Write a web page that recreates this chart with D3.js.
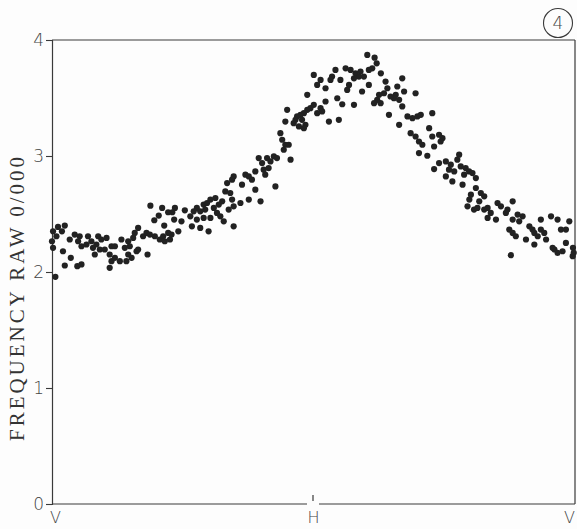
<!DOCTYPE html>
<html>
<head>
<meta charset="utf-8">
<script src="https://cdn.jsdelivr.net/npm/d3@7"></script>
<style>
  body { margin: 0; background: #fdfdfd; }
  svg { display: block; }
</style>
</head>
<body>
<svg id="chart" width="577" height="529"></svg>
<script>
// position along the scan: 0 = V, 1 = H, 2 = V
const position = [
  0.377,0.422,0.471,0.445,0.409,0.461,0.509,0.392,0.430,0.468,0.496,0.004,0.023,0.049,0.038,0.017,
  0.000,0.004,0.042,0.072,0.049,0.097,0.113,0.013,0.068,0.087,0.106,0.100,0.113,0.138,0.151,0.132,
  0.157,0.177,0.189,0.170,0.183,0.164,0.209,0.202,0.228,0.241,0.221,0.228,0.241,0.260,0.221,0.266,
  0.292,0.279,0.298,0.292,0.305,0.324,0.330,0.285,0.317,0.330,0.311,0.366,0.349,0.362,0.375,0.394,
  0.413,0.426,0.432,0.452,0.458,0.484,0.445,
  0.792,0.824,0.850,0.862,0.805,0.837,0.914,0.779,0.811,0.830,0.817,0.741,0.754,0.766,0.696,0.690,
  0.671,0.728,0.779,0.856,0.664,0.683,0.754,0.799,0.722,0.696,0.677,0.690,0.555,0.581,0.594,0.607,
  0.626,0.652,0.639,0.620,0.587,0.568,0.543,0.530,0.555,0.581,0.607,0.632,0.645,0.658,0.536,0.568,
  0.600,0.696,
  1.208,1.236,1.244,1.227,1.214,1.125,1.144,1.163,1.182,1.176,1.157,1.195,1.086,1.073,1.067,1.105,
  1.003,1.029,1.016,1.048,1.138,1.131,1.214,1.188,1.260,1.278,1.285,1.272,1.253,1.246,1.234,1.259,
  1.323,1.342,1.349,1.317,1.310,1.297,1.330,1.342,1.393,0.978,1.093,1.112,1.157,1.048,1.029,1.035,
  1.016,1.003,0.990,0.978,0.965,0.952,0.939,0.933,0.958,0.971,0.946,0.965,0.926,0.901,0.894,1.061,
  1.099,1.291,1.330,1.362,1.381,1.400,1.374,1.393,1.406,0.875,0.882,0.894,0.907,0.888,
  1.413,1.457,1.445,1.457,1.483,1.496,1.489,1.464,1.419,1.438,1.406,1.560,1.553,1.483,1.509,1.528,
  1.521,1.541,1.566,1.585,1.598,1.579,1.624,1.509,1.534,1.464,1.573,1.611,1.605,1.624,1.643,1.656,
  1.599,1.637,1.592,1.617,1.630,1.656,1.669,1.681,1.669,1.701,1.707,1.720,1.739,1.745,1.765,1.765,
  1.784,1.803,1.790,1.752,1.765,1.777,1.758,1.816,1.829,1.841,1.848,1.861,1.848,1.873,1.873,1.886,
  1.893,1.912,1.937,1.950,1.969,1.982,1.969,1.925,1.937,1.956,1.918,1.996,1.995,1.999
];

// frequency raw 0/000
const frequency = [
  2.572,2.552,2.552,2.515,2.486,2.515,2.532,2.446,2.400,2.452,2.437,2.351,2.389,2.400,2.351,2.308,
  2.265,2.208,2.179,2.122,2.056,2.050,2.065,1.958,2.280,2.323,2.308,2.265,2.222,2.308,2.265,2.237,
  2.208,2.308,2.280,2.237,2.194,2.151,2.294,2.194,2.222,2.222,2.151,2.093,2.122,2.093,2.036,2.280,
  2.265,2.208,2.222,2.151,2.122,2.179,2.194,2.093,2.337,2.380,2.294,2.151,2.308,2.337,2.323,2.308,
  2.280,2.308,2.265,2.280,2.323,2.351,2.337,
  2.982,2.982,2.996,2.982,2.939,2.953,2.968,2.867,2.882,2.896,2.839,2.839,2.824,2.796,2.824,2.796,
  2.767,2.753,2.710,2.738,2.695,2.681,2.624,2.609,2.595,2.566,2.538,2.624,2.552,2.581,2.595,2.624,
  2.638,2.609,2.581,2.552,2.538,2.523,2.523,2.480,2.452,2.466,2.466,2.509,2.480,2.437,2.394,2.380,
  2.351,2.394,
  3.871,3.848,3.799,3.756,3.742,3.756,3.742,3.713,3.728,3.685,3.670,3.685,3.742,3.685,3.656,3.656,
  3.699,3.656,3.613,3.584,3.613,3.570,3.613,3.556,3.713,3.642,3.584,3.541,3.527,3.484,3.455,3.455,
  3.599,3.670,3.556,3.527,3.498,3.513,3.484,3.427,3.541,3.527,3.498,3.446,3.441,3.470,3.412,3.384,
  3.369,3.441,3.412,3.398,3.369,3.355,3.341,3.312,3.312,3.269,3.255,3.240,3.283,3.398,3.297,3.297,
  3.312,3.355,3.269,3.341,3.326,3.341,3.197,3.168,3.125,3.197,3.140,3.097,3.097,3.054,
  3.355,3.369,3.240,3.168,3.183,3.154,3.125,3.082,3.097,3.002,3.025,3.011,2.968,2.939,2.953,2.925,
  2.882,2.867,2.910,2.896,2.867,2.839,2.810,2.824,2.781,2.887,2.753,2.853,2.667,2.724,2.681,2.652,
  2.624,2.609,2.566,2.538,2.552,2.538,2.552,2.509,2.466,2.452,2.595,2.566,2.509,2.538,2.609,2.452,
  2.495,2.480,2.437,2.366,2.337,2.308,2.145,2.280,2.394,2.366,2.337,2.308,2.237,2.452,2.366,2.337,
  2.280,2.480,2.452,2.366,2.366,2.437,2.251,2.194,2.165,2.179,2.208,2.208,2.136,2.165
];

const yTicks = [0, 1, 2, 3, 4];
const xTickValues = [0, 1, 2];
const xTickLabels = ["V", "H", "V"];
const yLabel = "FREQUENCY RAW 0/000";
const figureNumber = "4";

const svg = d3.select("#chart");
const ink = "#3a3a3a";

const x = d3.scaleLinear().domain([0, 2]).range([52, 574]);
const y = d3.scaleLinear().domain([0, 4]).range([504, 40]);

// left axis
const yAxis = svg.append("g")
    .attr("transform", `translate(${x(0)},0)`)
    .call(d3.axisLeft(y).tickValues(yTicks).tickSize(6).tickPadding(2).tickFormat(d3.format("d")));
yAxis.select(".domain").attr("stroke", ink).attr("stroke-width", 1.2);
yAxis.selectAll(".tick line").attr("stroke", ink).attr("stroke-width", 1.1);
yAxis.selectAll(".tick text")
    .attr("fill", "#444")
    .style("font-family", "'DejaVu Sans', sans-serif")
    .style("font-weight", "200")
    .style("font-size", "17px");

// bottom axis, labels only; the baseline is drawn with a gap at H
const xAxis = svg.append("g")
    .attr("transform", `translate(0,${y(0)})`)
    .call(d3.axisBottom(x).tickValues(xTickValues).tickSize(0).tickPadding(8)
        .tickFormat((d, i) => xTickLabels[i]));
xAxis.select(".domain").remove();
xAxis.selectAll(".tick text")
    .attr("fill", "#444")
    .attr("dx", (d, i) => i === xTickValues.length - 1 ? "-5" : i === 0 ? "3" : "0")
    .style("font-family", "'DejaVu Sans', sans-serif")
    .style("font-weight", "200")
    .style("font-size", "16px");

const frame = svg.append("g")
    .attr("fill", "none")
    .attr("stroke", ink)
    .attr("stroke-width", 1.2);
frame.append("line")
    .attr("x1", x(0)).attr("x2", x(1) - 6)
    .attr("y1", y(0)).attr("y2", y(0));
frame.append("line")
    .attr("x1", x(1) + 6).attr("x2", x(2) + 1)
    .attr("y1", y(0)).attr("y2", y(0));
frame.append("line")
    .attr("x1", x(1)).attr("x2", x(1))
    .attr("y1", y(0) - 9).attr("y2", y(0) - 3);
frame.append("line")
    .attr("x1", x(0)).attr("x2", x(2) + 1)
    .attr("y1", y(4)).attr("y2", y(4));
frame.append("line")
    .attr("x1", x(2) + 1).attr("x2", x(2) + 1)
    .attr("y1", y(4)).attr("y2", y(0));

// y label
svg.append("text")
    .attr("transform", "translate(24,299) rotate(-90)")
    .attr("text-anchor", "middle")
    .attr("textLength", 284)
    .attr("lengthAdjust", "spacing")
    .attr("fill", "#333")
    .style("font-family", "'Liberation Serif', serif")
    .style("font-size", "21px")
    .text(yLabel);

// figure number in a circle
svg.append("circle")
    .attr("cx", 558).attr("cy", 23).attr("r", 14.5)
    .attr("fill", "none").attr("stroke", ink).attr("stroke-width", 1.1);
svg.append("text")
    .attr("x", 558).attr("y", 29)
    .attr("text-anchor", "middle")
    .attr("fill", "#444")
    .style("font-family", "'DejaVu Sans', sans-serif")
    .style("font-weight", "200")
    .style("font-size", "17px")
    .text(figureNumber);

// points
const points = position.map((p, i) => ({ x: p, y: frequency[i] }));
svg.append("g")
    .selectAll("circle")
    .data(points)
    .enter().append("circle")
    .attr("cx", d => x(d.x))
    .attr("cy", d => y(d.y))
    .attr("r", 3.1)
    .attr("fill", "#222");
</script>
</body>
</html>
